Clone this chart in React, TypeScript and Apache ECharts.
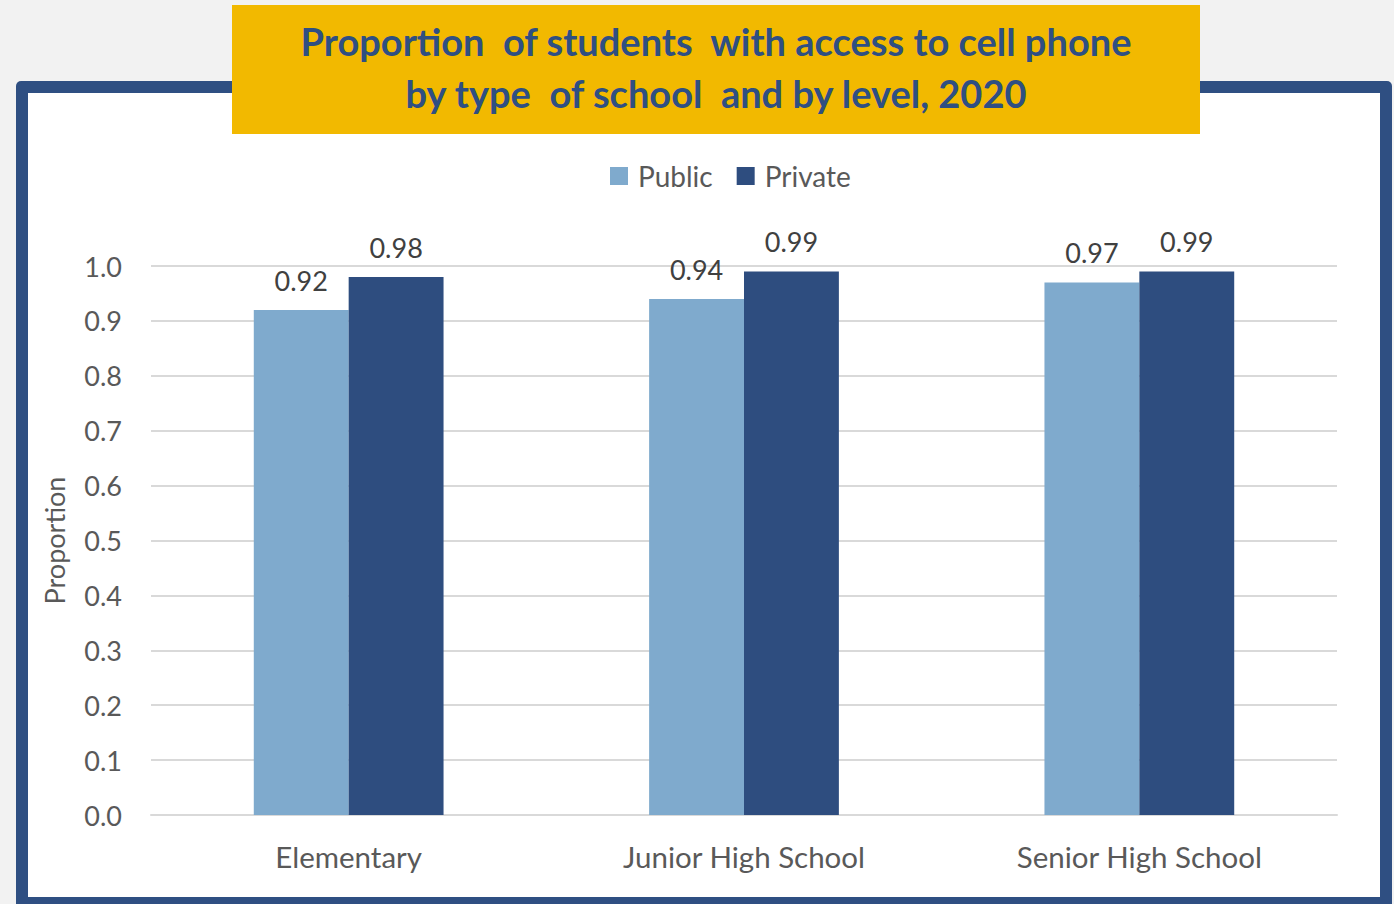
import React, { useEffect, useRef } from "react";
import * as echarts from "echarts";

const categories = ["Elementary", "Junior High School", "Senior High School"];
const publicValues = [0.92, 0.94, 0.97];
const privateValues = [0.98, 0.99, 0.99];
const seriesNames = ["Public", "Private"];
const titleLines = [
  "Proportion  of students  with access to cell phone",
  "by type  of school  and by level, 2020",
];

const FONT = "Lato, 'Open Sans', sans-serif";
const NAVY = "#2E4D7F";
const LIGHT = "#7FAACD";

export default function App() {
  const ref = useRef<HTMLDivElement>(null);

  useEffect(() => {
    if (!ref.current) return;
    const chart = echarts.init(ref.current, undefined, { renderer: "svg" });
    const valueLabel = {
      show: true,
      position: "top",
      distance: 16,
      fontFamily: FONT,
      fontSize: 27,
      color: "#404040",
      formatter: (p: any) => p.value.toFixed(2),
    };
    chart.setOption({
      animation: false,
      backgroundColor: "#F2F2F2",
      textStyle: { fontFamily: FONT },
      graphic: [
        {
          type: "rect",
          z: -2,
          shape: { x: 16, y: 81, width: 1376, height: 840, r: 5 },
          style: { fill: "#2F4F82" },
        },
        {
          type: "rect",
          z: -1,
          shape: { x: 28, y: 93, width: 1352, height: 804 },
          style: { fill: "#FFFFFF" },
        },
        {
          type: "rect",
          z: 10,
          shape: { x: 232, y: 5, width: 968, height: 129 },
          style: { fill: "#F2B900" },
        },
        {
          type: "text",
          z: 11,
          x: 716,
          y: 41,
          style: {
            text: titleLines[0],
            fill: "#2F4F82",
            font: `bold 38px ${FONT}`,
            textAlign: "center",
            textVerticalAlign: "middle",
          },
        },
        {
          type: "text",
          z: 11,
          x: 716,
          y: 93,
          style: {
            text: titleLines[1],
            fill: "#2F4F82",
            font: `bold 38px ${FONT}`,
            textAlign: "center",
            textVerticalAlign: "middle",
          },
        },
      ],
      legend: {
        data: seriesNames,
        left: 605,
        top: 157,
        itemWidth: 18,
        itemHeight: 18,
        itemGap: 24,
        icon: "rect",
        textStyle: {
          fontFamily: FONT,
          fontSize: 28,
          color: "#595959",
          padding: [0, 0, 0, 5],
        },
      },
      grid: { left: 151, right: 57, top: 266, bottom: 89, containLabel: false },
      xAxis: {
        type: "category",
        data: categories,
        axisLine: { lineStyle: { color: "#D9D9D9", width: 2 } },
        axisTick: { show: false },
        axisLabel: { fontFamily: FONT, fontSize: 29.5, color: "#595959", margin: 26 },
      },
      yAxis: {
        type: "value",
        min: 0,
        max: 1,
        interval: 0.1,
        name: "Proportion",
        nameLocation: "middle",
        nameGap: 83,
        nameRotate: 90,
        nameTextStyle: { fontFamily: FONT, fontSize: 27, color: "#595959" },
        axisLabel: {
          fontFamily: FONT,
          fontSize: 27,
          color: "#595959",
          margin: 29,
          formatter: (v: number) => v.toFixed(1),
        },
        splitLine: { lineStyle: { color: "#D9D9D9", width: 2 } },
      },
      series: [
        {
          name: seriesNames[0],
          type: "bar",
          data: publicValues,
          itemStyle: { color: LIGHT },
          barGap: "0%",
          barCategoryGap: "52%",
          label: valueLabel,
        },
        {
          name: seriesNames[1],
          type: "bar",
          data: privateValues,
          itemStyle: { color: NAVY },
          barGap: "0%",
          barCategoryGap: "52%",
          label: valueLabel,
        },
      ],
    });
    return () => chart.dispose();
  }, []);

  return (
    <div
      ref={ref}
      style={{ position: "fixed", left: 0, top: 0, width: 1394, height: 904 }}
    />
  );
}
